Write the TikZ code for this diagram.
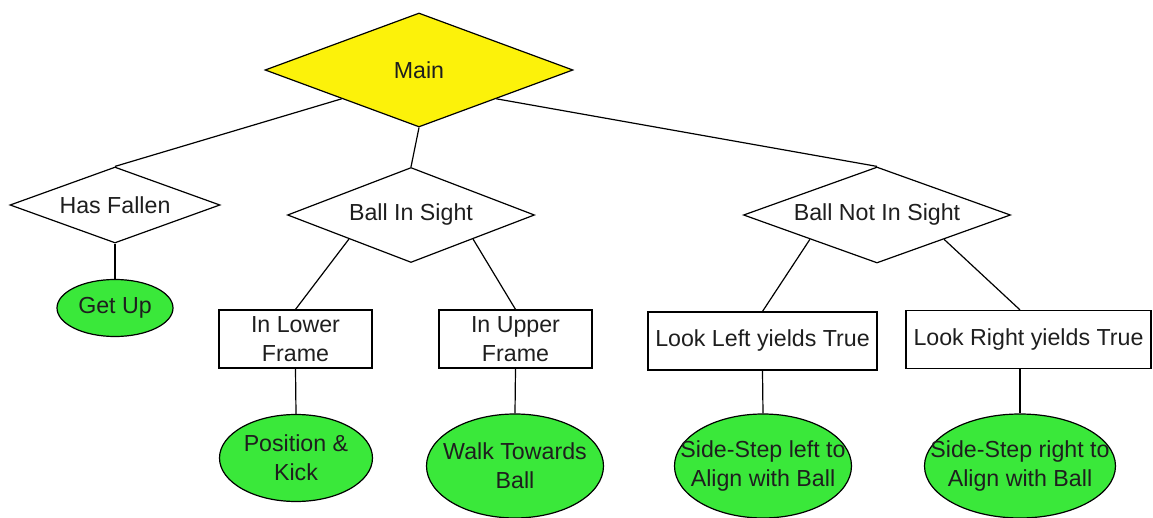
\documentclass[tikz,border=0pt]{standalone}
\usepackage{fontspec}
\setmainfont{Liberation Sans}
\usepackage{tikz}
\usepackage{xcolor}
\usetikzlibrary{shapes.geometric, positioning}
\definecolor{rootyellow}{RGB}{252,242,10}
\definecolor{leafgreen}{RGB}{58,232,58}
\definecolor{inkgray}{RGB}{30,30,30}

\begin{document}
\begin{tikzpicture}[x=0.5pt, y=-0.5pt, line width=0.6pt,
    every node/.style={font=\fontsize{11.6}{14.5}\selectfont, text=inkgray},
    test/.style={draw, diamond, aspect=2.5, inner sep=0pt},
    cond/.style={draw, rectangle, inner sep=0pt, align=center, minimum height=29pt},
    leaf/.style={draw, ellipse, fill=leafgreen, inner sep=0pt},
    say/.style={align=center, inner sep=0pt, font=\fontsize{11.6}{14.5}\selectfont, text=inkgray}]

        \useasboundingbox (0,0) rectangle (1153,518);

        % decision points
        \node[test, fill=rootyellow, minimum width=154pt, minimum height=57pt] (main) at (419,70) {Main};
        \node[test, minimum width=105pt, minimum height=38pt] (fallen) at (115,205) {Has Fallen};
        \node[test, minimum width=123.5pt, minimum height=47.5pt] (sight) at (411,215) {Ball In Sight};
        \node[test, minimum width=133.5pt, minimum height=48pt] (nosight) at (877,215) {Ball Not In Sight};

        % conditions
        \node[cond, minimum width=76.5pt] (lower) at (295.5,339) {In Lower\\Frame};
        \node[cond, minimum width=76.5pt] (upper) at (515.5,339) {In Upper\\Frame};
        \node[cond, minimum width=114.5pt] (lookl) at (762.5,341) {Look Left yields True};
        \node[cond, minimum width=122.5pt] (lookr) at (1028.5,339.5) {Look Right yields True};

        % actions
        \node[leaf, minimum width=58pt, minimum height=28.5pt,
            label={[say]center:Get Up}] (getup) at (115,308) {};
        \node[leaf, minimum width=76.5pt, minimum height=43.5pt,
            label={[say]center:Position \&\\Kick}] (kick) at (296,458) {};
        \node[leaf, minimum width=88.5pt, minimum height=52pt,
            label={[say]center:Walk Towards\\Ball}] (walk) at (515,466) {};
        \node[leaf, minimum width=88.5pt, minimum height=52pt,
            label={[say]center:Side-Step left to\\Align with Ball}] (stepl) at (763,466) {};
        \node[leaf, minimum width=95.5pt, minimum height=52pt,
            label={[say]center:Side-Step right to\\Align with Ball}] (stepr) at (1020,466) {};

        \foreach \to/\from in
        {main.south west/fallen.north, main.south/sight.north, main.south east/nosight.north,
         fallen.south/getup.north, sight.south west/lower.north, sight.south east/upper.north,
         nosight.south west/lookl.north, nosight.south east/lookr.north -| stepr,
         lower.south/kick.north, upper.south/walk.north, lookl.south/stepl.north,
         lookr.south -| stepr/stepr.north} \draw [-] (\to)--(\from);
        \end{tikzpicture}
\end{document}
